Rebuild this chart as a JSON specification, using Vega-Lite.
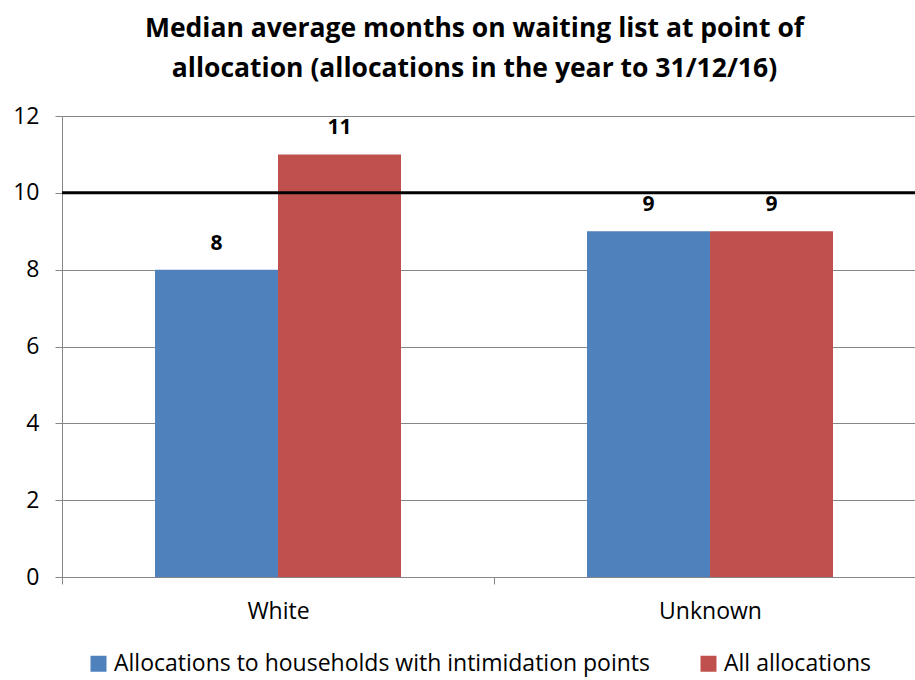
{
  "$schema": "https://vega.github.io/schema/vega-lite/v6.json",
  "autosize": {"type": "none"},
  "width": 853,
  "height": 461,
  "padding": {"left": 62, "top": 116, "right": 0, "bottom": 103},
  "background": "white",
  "title": {
    "text": ["Median average months on waiting list at point of", "allocation (allocations in the year to 31/12/16)"],
    "font": "Open Sans",
    "fontSize": 26.5,
    "fontWeight": "bold",
    "color": "black",
    "anchor": "middle",
    "dx": -14,
    "offset": 23,
    "lineHeight": 40
  },
  "data": {
    "values": [
      {"cat": "White", "series": "Allocations to households with intimidation points", "value": 8},
      {"cat": "White", "series": "All allocations", "value": 11},
      {"cat": "Unknown", "series": "Allocations to households with intimidation points", "value": 9},
      {"cat": "Unknown", "series": "All allocations", "value": 9}
    ]
  },
  "layer": [
    {
      "mark": {"type": "bar"},
      "encoding": {
        "x": {
          "field": "cat", "type": "nominal", "sort": ["White", "Unknown"],
          "scale": {"range": [0, 864], "paddingInner": 0, "paddingOuter": 0},
          "axis": {
            "title": null, "labelAngle": 0, "labelFont": "Open Sans", "labelFontSize": 23, "labelColor": "black",
            "domainColor": "#868686", "tickColor": "#868686", "tickSize": 7, "tickBand": "extent",
            "labelPadding": 16, "grid": false
          }
        },
        "xOffset": {
          "field": "series", "type": "nominal",
          "sort": ["Allocations to households with intimidation points", "All allocations"],
          "scale": {"range": [93, 339], "paddingInner": 0, "paddingOuter": 0}
        },
        "y": {
          "field": "value", "type": "quantitative",
          "scale": {"domain": [0, 12], "nice": false},
          "axis": {
            "title": null, "values": [0, 2, 4, 6, 8, 10, 12], "labelFont": "Open Sans", "labelFontSize": 23, "labelColor": "black",
            "domainColor": "#868686", "tickColor": "#868686", "tickSize": 7, "labelPadding": 16,
            "gridColor": "#868686", "gridWidth": 1
          }
        },
        "color": {
          "field": "series", "type": "nominal",
          "sort": ["Allocations to households with intimidation points", "All allocations"],
          "scale": {"range": ["#4F81BD", "#C0504D"]},
          "legend": {
            "title": null, "orient": "none", "direction": "horizontal", "legendX": 25, "legendY": 536,
            "symbolType": "square", "symbolSize": 256, "symbolStrokeWidth": 0, "symbolOpacity": 1,
            "labelFont": "Open Sans", "labelFontSize": 23, "labelColor": "black", "labelLimit": 700,
            "columnPadding": 46, "labelOffset": 4
          }
        }
      }
    },
    {
      "mark": {"type": "text", "font": "Open Sans", "fontSize": 21, "fontWeight": "bold", "color": "black", "dy": -26},
      "encoding": {
        "x": {"field": "cat", "type": "nominal", "sort": ["White", "Unknown"]},
        "xOffset": {
          "field": "series", "type": "nominal",
          "sort": ["Allocations to households with intimidation points", "All allocations"]
        },
        "y": {"field": "value", "type": "quantitative"},
        "text": {"field": "value", "type": "quantitative"}
      }
    },
    {
      "data": {"values": [{"ref": 10}]},
      "mark": {"type": "rule", "color": "black", "strokeWidth": 3},
      "encoding": {
        "y": {"field": "ref", "type": "quantitative"},
        "x": {"value": 0},
        "x2": {"value": 853}
      }
    }
  ],
  "config": {"view": {"stroke": null}}
}
